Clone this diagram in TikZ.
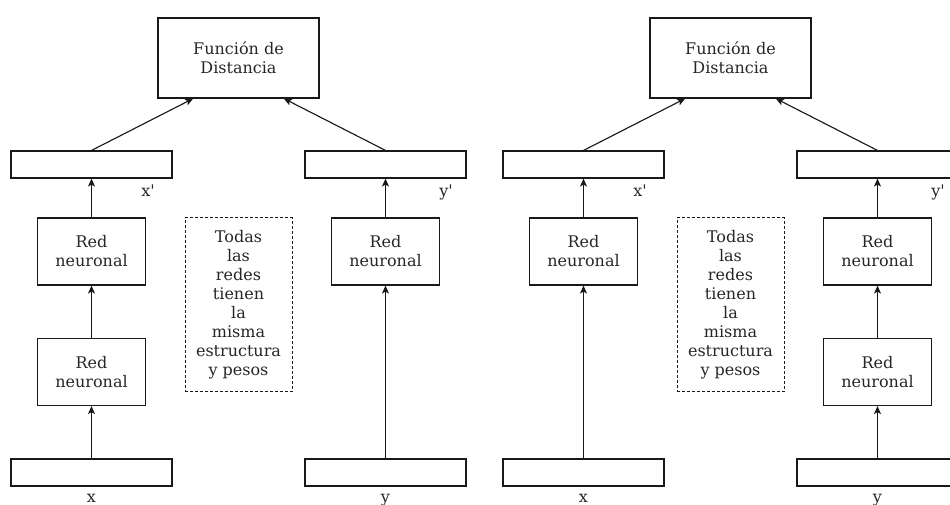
\documentclass[tikz,border=0pt]{standalone}
\usepackage{fontspec}
\setmainfont{DejaVu Serif}[Ligatures=TeXOff]
\usetikzlibrary{arrows.meta}

\tikzset{
	caja/.style={draw=black!90, line width=0.85pt, align=center, text=black!85, font=\fontsize{12}{14.25}\selectfont},
	funcion/.style={caja, minimum width=120.75pt, minimum height=60pt},
	vector/.style={caja, minimum width=120.75pt, minimum height=20.25pt},
	neurona/.style={caja, minimum width=81pt, minimum height=50.25pt},
	nota/.style={caja, dash pattern=on 2.25pt off 1.5pt, line width=0.75pt, minimum width=80.25pt, minimum height=130.5pt},
	etiqueta/.style={font=\fontsize{12}{14.25}\selectfont, text=black!85, inner sep=0pt, anchor=base},
	flecha/.style={-{Stealth[length=6pt,width=5.25pt,inset=1.5pt]}, draw=black!90, line width=0.85pt}
}

\begin{document}
\begin{tikzpicture}[x=0.75pt,y=-0.75pt]
	\useasboundingbox (0,0) rectangle (950,505);

	% primera red: dos redes del lado de x
	\node[funcion] (fun) at (238.5,58) {Función de\\Distancia};
	\node[vector] (xv) at (91.5,164.5) {};
	\node[vector] (yv) at (385.5,164.5) {};
	\node[neurona] (rxa) at (91.5,251.5) {Red\\neuronal};
	\node[neurona] (rxb) at (91.5,372) {Red\\neuronal};
	\node[neurona] (ry) at (385.5,251.5) {Red\\neuronal};
	\node[vector] (xin) at (91.5,472.5) {};
	\node[vector] (yin) at (385.5,472.5) {};
	\node[nota] (nt) at (238.5,305) {Todas\\las\\redes\\tienen\\la\\misma\\estructura\\y pesos};
	\node[etiqueta] (xp) at (148,197) {x'};
	\node[etiqueta] (yp) at (446,197) {y'};
	\node[etiqueta] (xl) at (91.5,503) {x};
	\node[etiqueta] (yl) at (385.5,503) {y};

	\draw[flecha] (xin) -- (rxb);
	\draw[flecha] (rxb) -- (rxa);
	\draw[flecha] (rxa) -- (xv);
	\draw[flecha] (yin) -- (ry);
	\draw[flecha] (ry) -- (yv);
	\draw[flecha] (xv.north) -- ([xshift=-34pt]fun.south);
	\draw[flecha] (yv.north) -- ([xshift=34pt]fun.south);

	% segunda red: dos redes del lado de y
	\begin{scope}[xshift=369pt]
		\node[funcion] (fun2) at (238.5,58) {Función de\\Distancia};
		\node[vector] (xv2) at (91.5,164.5) {};
		\node[vector] (yv2) at (385.5,164.5) {};
		\node[neurona] (rx2) at (91.5,251.5) {Red\\neuronal};
		\node[neurona] (rya2) at (385.5,251.5) {Red\\neuronal};
		\node[neurona] (ryb2) at (385.5,372) {Red\\neuronal};
		\node[vector] (xin2) at (91.5,472.5) {};
		\node[vector] (yin2) at (385.5,472.5) {};
		\node[nota] (nt2) at (238.5,305) {Todas\\las\\redes\\tienen\\la\\misma\\estructura\\y pesos};
		\node[etiqueta] (xp2) at (148,197) {x'};
		\node[etiqueta] (yp2) at (446,197) {y'};
		\node[etiqueta] (xl2) at (91.5,503) {x};
		\node[etiqueta] (yl2) at (385.5,503) {y};

		\draw[flecha] (xin2) -- (rx2);
		\draw[flecha] (rx2) -- (xv2);
		\draw[flecha] (yin2) -- (ryb2);
		\draw[flecha] (ryb2) -- (rya2);
		\draw[flecha] (rya2) -- (yv2);
		\draw[flecha] (xv2.north) -- ([xshift=-34pt]fun2.south);
		\draw[flecha] (yv2.north) -- ([xshift=34pt]fun2.south);
	\end{scope}
\end{tikzpicture}
\end{document}
